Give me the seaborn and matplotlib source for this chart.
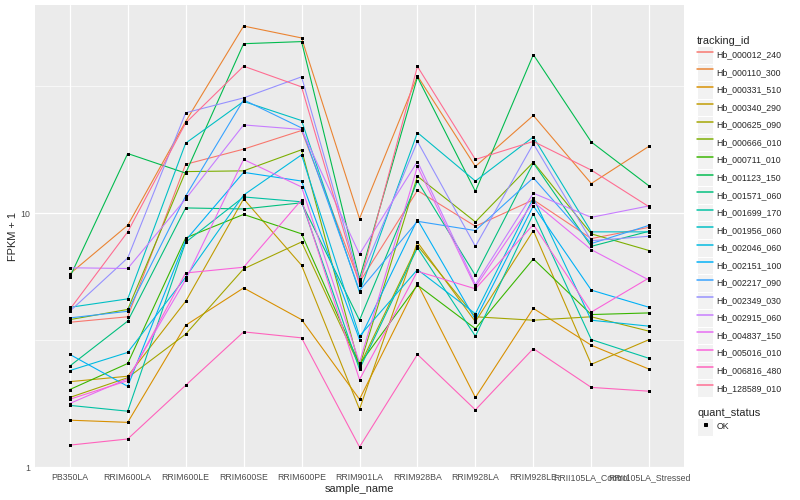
import numpy as np
import pandas as pd
import matplotlib
matplotlib.use("Agg")
import matplotlib.pyplot as plt
from matplotlib.lines import Line2D
from matplotlib.patches import Rectangle
from matplotlib.legend_handler import HandlerTuple
import seaborn as sns

# ── data (FPKM + 1 per sample) ───────────────────────────────────────────────
samples = ["PB350LA", "RRIM600LA", "RRIM600LE", "RRIM600SE", "RRIM600PE",
           "RRIM901LA", "RRIM928BA", "RRIM928LA", "RRIM928LE",
           "RRII105LA_Control", "RRII105LA_Stressed"]

tracking_ids = ["Hb_000012_240", "Hb_000110_300", "Hb_000331_510", "Hb_000340_290",
                "Hb_000625_090", "Hb_000666_010", "Hb_000711_010", "Hb_001123_150",
                "Hb_001571_060", "Hb_001699_170", "Hb_001956_060", "Hb_002046_060",
                "Hb_002151_100", "Hb_002217_090", "Hb_002349_030", "Hb_002915_060",
                "Hb_004837_150", "Hb_005016_010", "Hb_006816_480", "Hb_128589_010"]

hb_000012_240 = [3.72, 3.91, 15.6, 17.9, 21.2, 5.35, 12.3, 8.89, 11.3, 7.95, 8.81]
hb_000110_300 = [5.77, 8.97, 23.0, 54.7, 49.1, 9.53, 34.8, 15.3, 24.3, 13.1, 18.4]
hb_000331_510 = [1.53, 1.50, 3.62, 5.08, 3.81, 1.85, 5.29, 1.88, 4.22, 3.02, 2.43]
hb_000340_290 = [2.17, 2.28, 4.50, 11.4, 6.24, 1.69, 7.69, 3.74, 8.55, 2.54, 3.18]
hb_000625_090 = [1.88, 2.25, 3.34, 6.04, 7.71, 2.50, 7.46, 3.91, 3.79, 3.91, 3.43]
hb_000666_010 = [3.81, 4.18, 14.6, 14.7, 17.8, 2.49, 14.0, 9.25, 15.9, 8.30, 7.13]
hb_000711_010 = [2.02, 2.56, 8.00, 9.90, 8.30, 2.54, 5.21, 3.51, 6.61, 3.99, 4.05]
hb_001123_150 = [5.60, 17.2, 14.4, 46.6, 47.5, 5.52, 34.4, 12.2, 42.2, 19.1, 12.8]
hb_001571_060 = [2.50, 3.76, 10.5, 10.4, 11.0, 3.79, 13.4, 5.69, 15.8, 7.41, 8.50]
hb_001699_170 = [1.75, 1.66, 7.69, 11.6, 11.1, 2.43, 7.31, 3.28, 9.95, 3.18, 2.68]
hb_001956_060 = [4.26, 4.60, 18.9, 27.6, 23.2, 4.89, 20.8, 13.4, 20.0, 8.45, 8.45]
hb_002046_060 = [2.40, 2.83, 5.60, 11.8, 17.0, 3.28, 6.00, 4.02, 11.5, 3.79, 3.59]
hb_002151_100 = [2.78, 2.08, 7.83, 14.5, 13.4, 3.18, 9.45, 3.81, 10.7, 4.98, 4.26]
hb_002217_090 = [3.87, 4.11, 11.7, 28.0, 21.7, 4.96, 9.30, 8.55, 13.8, 7.60, 8.97]
hb_002349_030 = [4.11, 6.67, 24.9, 28.5, 34.5, 5.43, 19.2, 7.41, 18.8, 7.80, 8.12]
hb_002915_060 = [6.10, 6.06, 11.4, 22.3, 21.4, 6.90, 16.0, 5.24, 12.0, 9.64, 10.7]
hb_004837_150 = [1.78, 2.23, 5.48, 16.3, 12.7, 2.58, 15.3, 5.13, 11.1, 7.19, 5.45]
hb_005016_010 = [1.85, 2.19, 5.82, 6.13, 11.3, 2.21, 5.91, 5.04, 9.03, 4.08, 5.57]
hb_006816_480 = [1.22, 1.29, 2.10, 3.41, 3.23, 1.20, 2.78, 1.68, 2.93, 2.06, 1.99]
hb_128589_010 = [4.18, 8.45, 22.7, 38.0, 31.5, 5.24, 37.9, 16.3, 19.2, 14.8, 10.6]

series = [hb_000012_240, hb_000110_300, hb_000331_510, hb_000340_290, hb_000625_090,
          hb_000666_010, hb_000711_010, hb_001123_150, hb_001571_060, hb_001699_170,
          hb_001956_060, hb_002046_060, hb_002151_100, hb_002217_090, hb_002349_030,
          hb_002915_060, hb_004837_150, hb_005016_010, hb_006816_480, hb_128589_010]

# ggplot2 default hue palette, 20 levels
palette = ["#F8766D", "#EA8331", "#D89000", "#C09B00", "#A3A500", "#7CAE00",
           "#39B600", "#00BB4E", "#00BF7D", "#00C1A3", "#00BFC4", "#00BAE0",
           "#00B0F6", "#35A2FF", "#9590FF", "#C77CFF", "#E76BF3", "#FA62DB",
           "#FF62BC", "#FF6C91"]

rows = []
for tid, vals in zip(tracking_ids, series):
    for i, (s, v) in enumerate(zip(samples, vals)):
        rows.append({"tracking_id": tid, "sample_name": s, "pos": i,
                     "fpkm1": v, "quant_status": "OK"})
df = pd.DataFrame(rows)

# ── figure ───────────────────────────────────────────────────────────────────
sns.set_theme(style="darkgrid")
plt.rcParams["font.family"] = ["Liberation Sans", "DejaVu Sans"]

W, H = 800, 500
fig = plt.figure(figsize=(W / 72, H / 72), dpi=72)
ax = fig.add_axes([35 / W, 1 - 468 / H, (684 - 35) / W, (468 - 5) / H])

sns.lineplot(data=df, x="pos", y="fpkm1", hue="tracking_id", hue_order=tracking_ids,
             palette=palette, linewidth=1.1, legend=False, ax=ax, zorder=2)
sns.scatterplot(data=df, x="pos", y="fpkm1", color="black", marker="s", s=9,
                linewidth=0, legend=False, ax=ax, zorder=3)

ax.set_yscale("log")
lv = np.log10(df["fpkm1"])
r = lv.max() - lv.min()
ax.set_ylim(10 ** (lv.min() - 0.05 * r), 10 ** (lv.max() + 0.05 * r))
ax.set_xlim(-0.6, len(samples) - 0.4)

ax.set_yticks([1, 10])
ax.set_yticklabels(["1", "10"])
ax.set_yticks([10 ** 0.5, 10 ** 1.5], minor=True)
ax.yaxis.set_minor_formatter(matplotlib.ticker.NullFormatter())
ax.set_xticks(range(len(samples)))
ax.set_xticklabels(samples)

ax.set_facecolor("#EBEBEB")
for sp in ax.spines.values():
    sp.set_visible(False)
ax.grid(which="major", color="white", linewidth=1.2)
ax.grid(which="minor", axis="y", color="white", linewidth=0.6)
ax.tick_params(which="major", length=2.75, width=1.0, color="#333333",
               labelsize=8.8, labelcolor="#4D4D4D", pad=2)
ax.tick_params(which="minor", length=0)
ax.set_xlabel("sample_name", fontsize=11, labelpad=2)
ax.set_ylabel("FPKM + 1", fontsize=11, labelpad=2)

# ── legends (grey key boxes like ggplot) ─────────────────────────────────────
def key_box():
    return Rectangle((0, 0), 1, 1, facecolor="#F2F2F2", edgecolor="white", linewidth=1)


leg_kw = dict(loc="upper left", frameon=False, fontsize=8.8, title_fontsize=11,
              handlelength=15.5 / 8.8, handleheight=2.69, labelspacing=0,
              handletextpad=0.45, borderpad=0, borderaxespad=0, alignment="left",
              handler_map={tuple: HandlerTuple(ndivide=1, pad=0)})

handles = [(key_box(), Line2D([], [], color=c, linewidth=1.5)) for c in palette]
fig.legend(handles, tracking_ids, title="tracking_id",
           bbox_to_anchor=(697 / W, 1 - 36 / H), **leg_kw)

ok = (key_box(), Line2D([], [], color="black", marker="s", linestyle="none", markersize=3))
fig.legend([ok], ["OK"], title="quant_status",
           bbox_to_anchor=(697 / W, 1 - 408 / H), **leg_kw)

fig.savefig("out.png", dpi=72, facecolor="white")
